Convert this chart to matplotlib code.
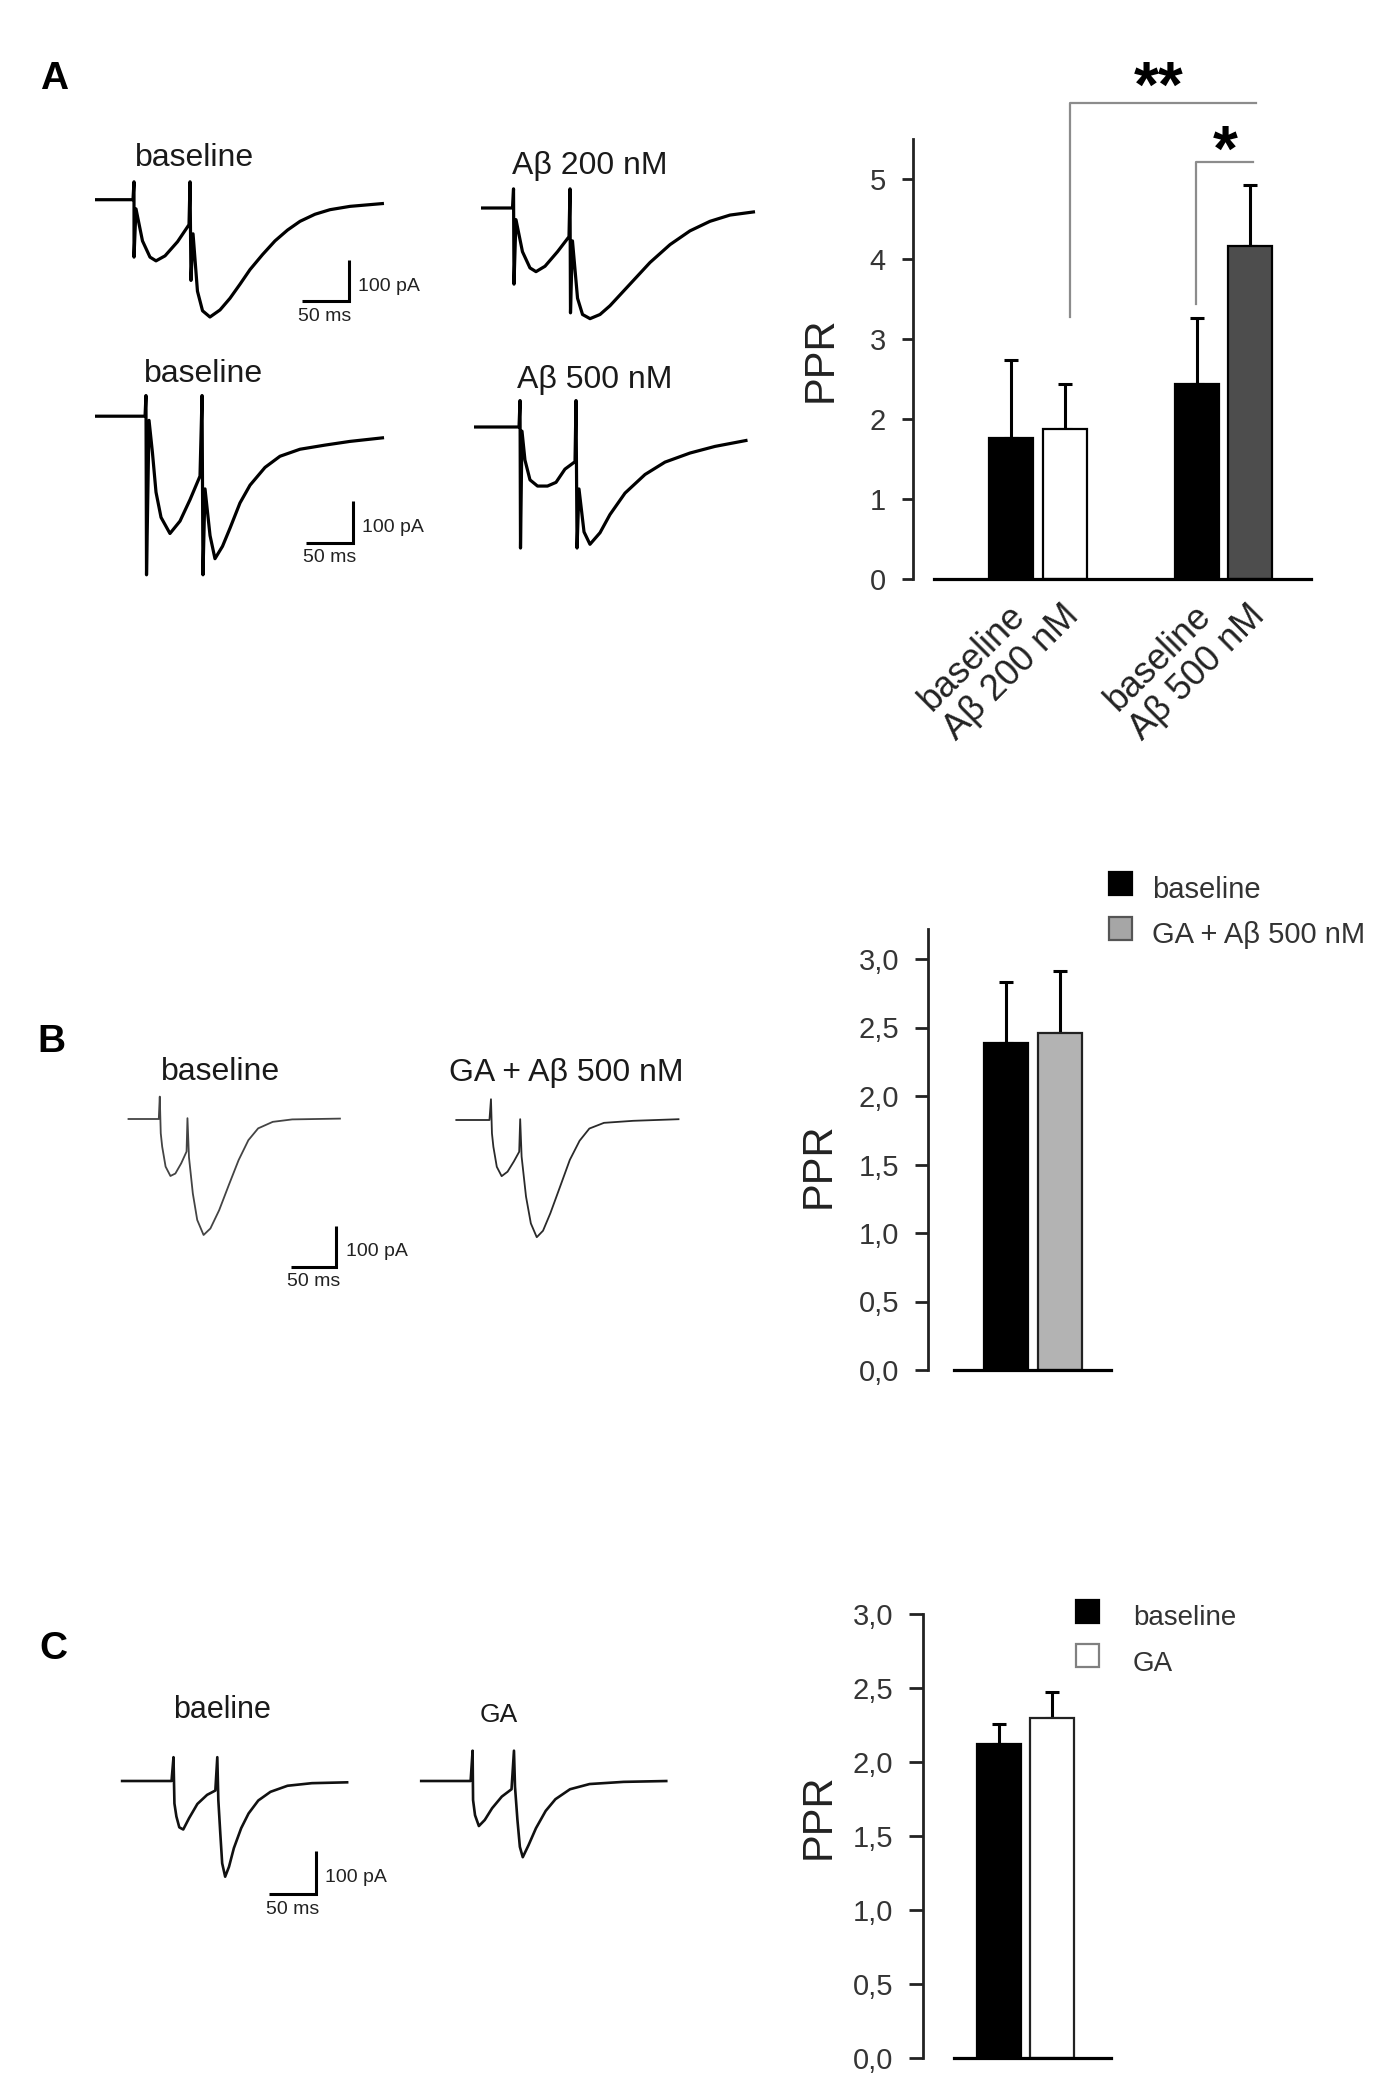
import matplotlib
matplotlib.use('Agg')
import matplotlib.pyplot as plt
from matplotlib.patches import Rectangle

plt.rcParams['font.family'] = ['Liberation Sans', 'DejaVu Sans']

W, H = 1376, 2092

# ---------------- data: bar charts ----------------
A_labels = ['baseline', 'Aβ 200 nM', 'baseline', 'Aβ 500 nM']
A_means = [1.76, 1.875, 2.44, 4.16]
A_err_top = [2.74, 2.44, 3.26, 4.93]
A_colors = ['black', 'white', 'black', '#4d4d4d']
A_yticks = [0, 1, 2, 3, 4, 5]
A_sig = ['**', '*']

B_labels = ['baseline', 'GA + Aβ 500 nM']
B_means = [2.39, 2.46]
B_err_top = [2.83, 2.91]
B_colors = ['black', '#b3b3b3']

C_labels = ['baseline', 'GA']
C_means = [2.12, 2.30]
C_err_top = [2.26, 2.47]
C_colors = ['black', 'white']

BC_yticks = [0.0, 0.5, 1.0, 1.5, 2.0, 2.5, 3.0]
BC_yticklabels = ['0,0', '0,5', '1,0', '1,5', '2,0', '2,5', '3,0']

# ---------------- data: example traces (time ms, current pA) ----------------
A1_t = [0, 40.4, 41.5, 41.5, 43.6, 50.5, 58.5, 64.9, 74.5, 87.8, 100, 101.1, 102.1, 104.3, 109, 114.4,
        122.3, 133, 143.6, 154.3, 164.9, 178.2, 191.5, 204.8, 218.1, 234, 250, 271.3, 307.4]
A1_i = [0, 0, 43, -138, -22, -99, -138, -147, -135, -101, -60, 43, -194, -82, -220, -267,
        -282, -265, -237, -203, -168, -132, -99, -73, -52, -35, -24, -16, -9]

A2_t = [0, 33.5, 34.6, 35.1, 37.2, 44.1, 52.1, 58.5, 68.1, 81.4, 93.6, 94.7, 95.2, 97.3, 102.7, 108,
        116, 126.6, 137.2, 158.5, 179.8, 201.1, 222.3, 243.6, 264.9, 291.5]
A2_i = [0, 0, 46, -183, -28, -105, -144, -153, -140, -105, -69, 46, -252, -79, -217, -256,
        -266, -256, -235, -183, -131, -88, -55, -32, -17, -9]

A3_t = [0, 53.8, 54.8, 55.4, 58.1, 61.8, 65.6, 71, 80.6, 91.4, 102.2, 112.9, 115.1, 116.1, 118.3,
        123.7, 129, 137.1, 145.2, 155.9, 166.7, 182.8, 198.9, 220.4, 247.3, 274.2, 310.8]
A3_i = [0, 0, 50, -384, -10, -89, -184, -245, -284, -254, -202, -145, 50, -384, -176,
        -289, -345, -315, -271, -210, -167, -124, -97, -80, -70, -61, -52]

A4_t = [0, 48.4, 49.5, 50, 51.6, 54.8, 60.2, 68.3, 79, 88.2, 97.8, 108.6, 109.7, 110.8, 112.9,
        118.3, 124.7, 135.5, 146.2, 162.4, 183.9, 205.4, 232.3, 259.1, 294.1]
A4_i = [0, 0, 64, -293, -10, -80, -128, -143, -143, -134, -102, -84, 64, -293, -150,
        -254, -284, -256, -212, -160, -115, -85, -63, -47, -32]

B1_t = [0, 34.8, 35.9, 37, 38.6, 42.4, 47.8, 53.3, 59.8, 65.8, 66.8, 68.5, 72.8, 77.7, 84.8, 92.4,
        102.2, 113, 123.9, 134.8, 145.7, 162, 183.7, 238]
B1_i = [0, 0, 55, -35, -68, -117, -140, -134, -109, -80, 2, -94, -183, -248, -285, -269,
        -224, -162, -101, -52, -23, -7, -1, 1]

B2_t = [0, 38, 39.7, 40.8, 42.4, 46.2, 51.6, 58.2, 65.2, 71.2, 72.3, 73.9, 78.8, 84.2, 90.8, 97.8,
        106, 116.8, 127.7, 138.6, 149.5, 165.8, 198.4, 250]
B2_i = [0, 0, 51, -33, -66, -115, -138, -127, -102, -78, 2, -90, -188, -254, -288, -272,
        -229, -164, -98, -51, -21, -7, -2, 2]

C1_t = [0, 54.2, 56.3, 57.3, 59.4, 62.5, 66.7, 72.9, 81.8, 92.2, 101, 103.1, 104.2, 106.3, 108.3,
        111.5, 115.6, 120.8, 128.6, 136.5, 146.9, 159.9, 178.1, 204.2, 243.2]
C1_i = [0, 0, 55, -52, -82, -107, -112, -86, -53, -32, -22, 55, -44, -121, -190,
        -221, -198, -155, -109, -75, -45, -25, -11, -5, -3]

C2_t = [0, 54.2, 56.3, 56.8, 58.9, 63, 69.3, 77.1, 87.5, 97.9, 100.5, 101.6, 104.2, 106.8, 109.9,
        116.1, 124, 134.4, 144.8, 160.4, 181.3, 217.7, 264.6]
C2_i = [0, 0, 70, -44, -79, -104, -90, -63, -36, -19, 70, -13, -90, -152, -176,
        -148, -109, -69, -42, -19, -7, -2, 0]

SCALE_T = 50      # ms
SCALE_I = 100     # pA

# ---------------- figure ----------------
fig = plt.figure(figsize=(W / 100, H / 100), dpi=100)
fig.patch.set_facecolor('white')


def fx(x):
    return x / W


def fy(y):
    return 1 - y / H


def px_axes(left, top, right, bottom):
    return fig.add_axes([left / W, 1 - bottom / H, (right - left) / W, (bottom - top) / H])


def trace(ox, oy, sx, sy, t, i, lw, color):
    tmin, tmax = min(t) - 10, max(t) + 10
    imin, imax = min(i) - 40, max(i) + 40
    ax = px_axes(ox + tmin * sx, oy - imax * sy, ox + tmax * sx, oy - imin * sy)
    ax.set_xlim(tmin, tmax)
    ax.set_ylim(imin, imax)
    ax.axis('off')
    ax.plot(t, i, color=color, lw=lw, solid_joinstyle='round', solid_capstyle='butt')
    return ax


def scalebar(cx, cy, sx, sy, lw, fs):
    ax = px_axes(cx - 70 * sx, cy - 130 * sy, cx + 10 * sx, cy + 20 * sy)
    ax.set_xlim(-70, 10)
    ax.set_ylim(-20, 130)
    ax.axis('off')
    ax.plot([-SCALE_T, 0, 0], [0, 0, SCALE_I], color='black', lw=lw,
            solid_joinstyle='miter', solid_capstyle='butt')
    ax.annotate(f'{SCALE_I} pA', xy=(0, SCALE_I * 0.5), xytext=(7, -4), textcoords='offset points',
                ha='left', va='center', fontsize=fs, color='#222222')
    ax.annotate(f'{SCALE_T} ms', xy=(-SCALE_T / 2, 0), xytext=(0, -11), textcoords='offset points',
                ha='center', va='center', fontsize=fs, color='#222222')


def bar_panel(spine_x, x0, x1, zero_y, unit, ymax, pos, means, tops, colors, edges,
              ticks, ticklabels, ticklen):
    top = zero_y - ymax * unit
    ax = px_axes(x0, top, x1, zero_y)
    ax.set_xlim(0, (x1 - x0) / 44.0)
    ax.set_ylim(0, ymax)
    errs = [t - m for t, m in zip(tops, means)]
    ax.errorbar(pos, means, yerr=[[0] * len(means), errs], fmt='none', ecolor='black',
                elinewidth=2.2, capsize=5, capthick=2.2, zorder=1)
    ax.bar(pos, means, width=1.0, color=colors, edgecolor=edges, linewidth=1.6, zorder=2)
    for s in ['top', 'right']:
        ax.spines[s].set_visible(False)
    ax.spines['left'].set_position(('outward', (x0 - spine_x) * 0.72))
    ax.spines['left'].set_linewidth(2.0)
    ax.spines['left'].set_color('#222222')
    ax.spines['bottom'].set_linewidth(2.3)
    ax.spines['bottom'].set_color('black')
    ax.spines['bottom'].set_zorder(3)
    ax.set_yticks(ticks)
    ax.set_yticklabels(ticklabels)
    ax.tick_params(axis='y', direction='out', length=ticklen, width=2.0, pad=11.5,
                   labelsize=21, labelcolor='#353535', color='#222222')
    ax.tick_params(axis='x', bottom=False, labelbottom=False)
    ax.patch.set_alpha(0)
    return ax


def legend_px(x, ys, w, h, facecolors, edgecolors, labels, text_x, baselines, fs):
    for y, fc, ec, lab, by in zip(ys, facecolors, edgecolors, labels, baselines):
        fig.add_artist(Rectangle((fx(x), fy(y + h)), w / W, h / H, transform=fig.transFigure,
                                 facecolor=fc, edgecolor=ec, linewidth=1.6))
        fig.text(fx(text_x), fy(by), lab, fontsize=fs, ha='left', va='baseline', color='#333333')


# ---------------- panel labels ----------------
for lab, (x, y) in zip(['A', 'B', 'C'], [(54, 79), (51, 1042), (53, 1649)]):
    fig.text(fx(x), fy(y), lab, fontsize=28, fontweight='bold', ha='center', va='center')

# ---------------- panel A traces ----------------
tr_col = 'black'
trace(95, 199.7, 0.94, 0.416, A1_t, A1_i, 2.3, tr_col)
trace(481, 208, 0.94, 0.416, A2_t, A2_i, 2.3, tr_col)
trace(95, 416.2, 0.93, 0.413, A3_t, A3_i, 2.3, tr_col)
trace(474, 427, 0.93, 0.413, A4_t, A4_i, 2.3, tr_col)
scalebar(348.5, 301.3, 0.94, 0.416, 2.2, 14)
scalebar(352.5, 542.5, 0.93, 0.413, 2.2, 14)
for txt, (x, y) in zip(['baseline', 'Aβ 200 nM', 'baseline', 'Aβ 500 nM'],
                       [(195, 158), (590, 166), (204, 374), (595, 380)]):
    fig.text(fx(x), fy(y), txt, fontsize=23, ha='center', va='center', color='#1a1a1a')

# ---------------- panel B traces ----------------
trace(127.6, 1119, 0.896, 0.407, B1_t, B1_i, 1.3, '#444444')
trace(455.4, 1120, 0.896, 0.407, B2_t, B2_i, 1.3, '#2a2a2a')
scalebar(336.1, 1266.7, 0.896, 0.407, 2.2, 14)
for txt, (x, y) in zip(['baseline', 'GA + Aβ 500 nM'], [(221, 1072), (566, 1073)]):
    fig.text(fx(x), fy(y), txt, fontsize=23, ha='center', va='center', color='#1a1a1a')

# ---------------- panel C traces ----------------
trace(120.8, 1781, 0.936, 0.433, C1_t, C1_i, 1.9, '#111111')
trace(419.9, 1781, 0.936, 0.433, C2_t, C2_i, 1.9, '#111111')
scalebar(315.6, 1894, 0.936, 0.433, 2.2, 14)
fig.text(fx(221.6), fy(1710), 'baeline', fontsize=22, ha='center', va='center', color='#1a1a1a')
fig.text(fx(499), fy(1715), 'GA', fontsize=19, ha='center', va='center', color='#1a1a1a')

# ---------------- panel A bar chart ----------------
A_pos = [1.76, 2.97, 5.98, 7.19]
axA = bar_panel(913, 934, 1311, 579, 80, 5.5, A_pos, A_means, A_err_top, A_colors,
                ['black'] * 4, A_yticks, [str(v) for v in A_yticks], 8)
axA.set_ylabel('PPR', fontsize=30, color='#222222', va='center')
axA.yaxis.set_label_coords(-0.30, 0.50)
for p, lab in zip(A_pos, A_labels):
    axA.text(p + 0.2, -0.40, lab, rotation=45, ha='right', va='center', rotation_mode='anchor',
             fontsize=26, color='#222222', clip_on=False)
brk = '#8c8c8c'
axA.plot([3.08, 3.08, 7.31], [3.27, 5.95, 5.95], color=brk, lw=1.6, clip_on=False)
axA.plot([5.95, 5.95, 7.25], [3.44, 5.21, 5.21], color=brk, lw=1.6, clip_on=False)
axA.text(5.11, 6.12, A_sig[0], fontsize=46, fontweight='bold', ha='center', va='center', clip_on=False)
axA.text(6.61, 5.31, A_sig[1], fontsize=46, fontweight='bold', ha='center', va='center', clip_on=False)

# ---------------- panel B bar chart ----------------
B_pos = [1.19, 2.41]
axB = bar_panel(928, 954, 1111, 1370, 137, 3.22, B_pos, B_means, B_err_top, B_colors,
                ['black', '#222222'], BC_yticks, BC_yticklabels, 9.4)
axB.set_ylabel('PPR', fontsize=30, color='#222222', va='center')
axB.yaxis.set_label_coords(-(954 - 819) / 157, (1370 - 1165) / 441)
legend_px(1109, [872, 917], 23, 23, ['black', '#a6a6a6'], ['black', '#555555'],
          B_labels, 1152, [898, 943], 21)

# ---------------- panel C bar chart ----------------
C_pos = [1.03, 2.23]
axC = bar_panel(923, 954, 1111, 2058, 148, 3.0, C_pos, C_means, C_err_top, C_colors,
                ['black', '#222222'], BC_yticks, BC_yticklabels, 10)
axC.set_ylabel('PPR', fontsize=30, color='#222222', va='center')
axC.yaxis.set_label_coords(-(954 - 819) / 157, (2058 - 1816) / 444)
legend_px(1076, [1600, 1644], 23, 23, ['black', 'white'], ['black', '#808080'],
          C_labels, 1133, [1625, 1671], 20)

fig.savefig('out.png', dpi=100, facecolor='white')
